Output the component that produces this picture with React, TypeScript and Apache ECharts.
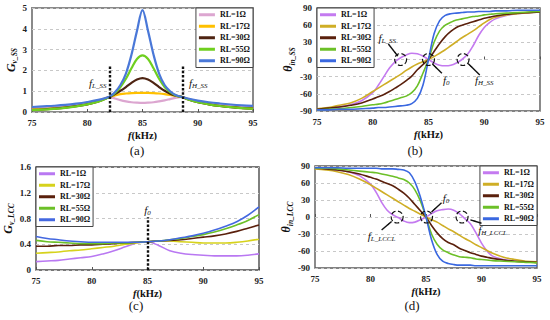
import React, { useEffect, useRef } from "react";
import * as echarts from "echarts";

const FONT = "'Liberation Serif', 'Times New Roman', serif";
const RL_NAMES = ["RL=1Ω", "RL=17Ω", "RL=30Ω", "RL=55Ω", "RL=90Ω"];
const X_TICKS = [75, 80, 85, 90, 95];

// (a) SS voltage gain
const freqA = [75, 76, 77, 78, 79, 80, 81, 82, 82.5, 83, 83.5, 84, 84.5, 85, 85.5, 86, 86.5, 87, 87.5, 88, 88.6, 89, 90, 91, 92, 93, 94, 95];
const gA_rl1 = [0.18, 0.2, 0.24, 0.29, 0.36, 0.44, 0.55, 0.72, 0.65, 0.57, 0.51, 0.47, 0.45, 0.44, 0.45, 0.47, 0.51, 0.56, 0.62, 0.68, 0.72, 0.65, 0.52, 0.43, 0.36, 0.31, 0.27, 0.24];
const gA_rl17 = [0.12, 0.14, 0.18, 0.22, 0.29, 0.38, 0.52, 0.72, 0.8, 0.86, 0.89, 0.91, 0.92, 0.92, 0.92, 0.91, 0.89, 0.86, 0.82, 0.77, 0.72, 0.64, 0.48, 0.38, 0.3, 0.24, 0.2, 0.17];
const gA_rl30 = [0.1, 0.12, 0.16, 0.21, 0.28, 0.37, 0.51, 0.72, 0.86, 1.02, 1.2, 1.4, 1.56, 1.63, 1.56, 1.4, 1.2, 1.02, 0.88, 0.78, 0.72, 0.63, 0.47, 0.37, 0.29, 0.23, 0.19, 0.16];
const gA_rl55 = [0.09, 0.11, 0.15, 0.2, 0.27, 0.37, 0.5, 0.72, 0.9, 1.2, 1.6, 2.1, 2.55, 2.72, 2.55, 2.1, 1.6, 1.2, 0.95, 0.8, 0.72, 0.63, 0.47, 0.37, 0.29, 0.23, 0.19, 0.15];
const gA_rl90 = [0.24, 0.27, 0.3, 0.34, 0.4, 0.48, 0.58, 0.73, 0.95, 1.3, 1.85, 2.75, 3.9, 4.9, 3.9, 2.75, 1.85, 1.3, 1.0, 0.82, 0.72, 0.66, 0.55, 0.47, 0.41, 0.36, 0.32, 0.29];

// (b) and (d) phase
const freqP = [75, 76, 77, 78, 79, 80, 80.5, 81, 81.5, 82, 82.5, 83, 83.5, 84, 84.5, 85, 85.5, 86, 86.5, 87, 87.5, 88, 88.5, 89, 89.5, 90, 90.5, 91, 92, 93, 94, 95];
const pB_rl1 = [-88, -86, -83, -79, -72, -58, -45, -30, -15, -4, 3, 8, 11, 10, 6, 0, -6, -10, -11, -10, -6, 0, 9, 24, 42, 56, 65, 71, 77, 80, 82, 84];
const pB_rl17 = [-86, -84, -80, -76, -68, -56, -50, -44, -38, -32, -26, -19, -13, -8, -4, 0, 5, 11, 17, 24, 31, 38, 44, 50, 57, 64, 70, 74, 78, 80, 82, 83];
const pB_rl30 = [-87, -85, -83, -80, -76, -69, -65, -61, -56, -50, -44, -37, -29, -18, -9, 0, 14, 28, 40, 49, 56, 60, 63, 66, 69, 72, 74, 76, 79, 81, 82, 83];
const pB_rl55 = [-88, -87, -86, -84, -82, -79, -78, -76, -73, -70, -67, -64, -58, -46, -24, 0, 30, 50, 60, 65, 69, 71, 73, 75, 76, 78, 79, 80, 81, 82, 83, 84];
const pB_rl90 = [-88, -88, -87, -87, -86, -85, -84, -84, -83, -82, -81, -80, -77, -68, -45, 0, 45, 68, 77, 80, 81, 82, 83, 83, 84, 84, 84, 85, 85, 86, 86, 86];

const pD_rl1 = [86, 85, 83, 80, 73, 58, 44, 26, 12, 4, -1, -7, -10, -9, -5, 0, 6, 11, 13, 14, 12, 6, -3, -12, -28, -46, -60, -69, -75, -78, -79, -80];
const pD_rl17 = [85, 83, 80, 75, 67, 57, 51, 45, 39, 33, 27, 21, 15, 10, 5, 0, -5, -9, -15, -21, -26, -32, -38, -43, -49, -54, -59, -64, -71, -75, -78, -79];
const pD_rl30 = [86, 85, 83, 80, 76, 70, 67, 63, 59, 55, 49, 42, 33, 22, 11, 0, -15, -28, -38, -45, -49, -55, -59, -63, -66, -69, -71, -73, -76, -78, -79, -80];
const pD_rl55 = [86, 86, 85, 83, 81, 79, 78, 76, 74, 72, 69, 66, 60, 48, 28, 0, -30, -48, -58, -63, -67, -70, -71, -72, -74, -75, -76, -77, -78, -79, -80, -81];
const pD_rl90 = [87, 87, 87, 86, 86, 86, 86, 85, 85, 85, 84, 83, 78, 62, 35, 0, -40, -66, -78, -82, -84, -85, -85, -85, -86, -86, -86, -86, -86, -86, -86, -86];

// (c) LCC voltage gain
const freqC = [75, 76, 77, 78, 79, 80, 81, 82, 83, 84, 85, 86, 87, 88, 89, 90, 91, 92, 93, 94, 95];
const gC_rl1 = [0.13, 0.14, 0.15, 0.17, 0.19, 0.21, 0.25, 0.3, 0.36, 0.42, 0.44, 0.38, 0.3, 0.26, 0.24, 0.23, 0.22, 0.22, 0.22, 0.23, 0.25];
const gC_rl17 = [0.26, 0.27, 0.28, 0.3, 0.31, 0.33, 0.35, 0.37, 0.4, 0.42, 0.44, 0.45, 0.45, 0.44, 0.43, 0.42, 0.42, 0.42, 0.43, 0.45, 0.48];
const gC_rl30 = [0.37, 0.37, 0.38, 0.38, 0.39, 0.39, 0.4, 0.41, 0.42, 0.43, 0.44, 0.45, 0.46, 0.47, 0.49, 0.51, 0.53, 0.56, 0.6, 0.65, 0.7];
const gC_rl55 = [0.46, 0.44, 0.43, 0.42, 0.41, 0.41, 0.41, 0.42, 0.42, 0.43, 0.44, 0.45, 0.47, 0.49, 0.52, 0.55, 0.59, 0.64, 0.7, 0.77, 0.86];
const gC_rl90 = [0.52, 0.49, 0.47, 0.45, 0.44, 0.43, 0.43, 0.43, 0.43, 0.43, 0.44, 0.45, 0.47, 0.5, 0.53, 0.57, 0.62, 0.68, 0.75, 0.85, 0.98];

const COLORS_A = ["#dca6d0", "#ffc000", "#4e2412", "#6fcf1f", "#4a78d8"];
const COLORS_B = ["#c47af0", "#cfae26", "#5a200c", "#6cc028", "#3a68e0"];
const COLORS_C = ["#b978f2", "#d6d21c", "#5a200c", "#6cc028", "#4468e0"];

const subRich = {
  i: { fontFamily: FONT, fontStyle: "italic", fontSize: 11, verticalAlign: "top", color: "#111" },
  s: { fontFamily: FONT, fontStyle: "italic", fontSize: 7, padding: [5, 0, 0, 0], verticalAlign: "top", color: "#111" },
};
const nameRich = {
  i: { fontFamily: FONT, fontStyle: "italic", fontWeight: "bold", fontSize: 12, verticalAlign: "top", color: "#111" },
  s: { fontFamily: FONT, fontStyle: "italic", fontWeight: "bold", fontSize: 7.5, padding: [6, 0, 0, 0], verticalAlign: "top", color: "#111" },
};

function pair(xs: number[], ys: number[]) {
  return xs.map((x, i) => [x, ys[i]]);
}

function circle(x: number, y: number) {
  return {
    coord: [x, y], symbol: "circle", symbolSize: 12,
    itemStyle: { color: "rgba(0,0,0,0)", borderColor: "#111", borderWidth: 1.2, borderType: "dashed" },
    label: { show: false },
  };
}
function textMark(x: number, y: number, main: string, sub: string) {
  return {
    coord: [x, y], symbol: "circle", symbolSize: 1,
    itemStyle: { color: "rgba(0,0,0,0)" },
    label: { show: true, position: "inside", formatter: `{i|${main}}{s|${sub}}`, rich: subRich },
  };
}
function arrow(x1: number, y1: number, x2: number, y2: number) {
  return [{ coord: [x1, y1] }, { coord: [x2, y2] }];
}
function vdash(x: number, y1: number, y2: number) {
  return [{ coord: [x, y1] }, { coord: [x, y2] }];
}

function panelSeries(id: string, idx: number, xs: number[], ys: number[][], colors: string[], width: number, marks: any) {
  return ys.map((vals, k) => {
    const s: any = {
      type: "line",
      name: `${id}|${RL_NAMES[k]}`,
      xAxisIndex: idx,
      yAxisIndex: idx,
      data: pair(xs, vals),
      smooth: 0.35,
      showSymbol: false,
      symbol: "none",
      lineStyle: { color: colors[k], width },
      itemStyle: { color: colors[k] },
      emphasis: { disabled: true },
      silent: true,
    };
    if (k === ys.length - 1 && marks) Object.assign(s, marks);
    return s;
  });
}

const GRIDS = [
  { left: 32, top: 8, width: 221, height: 104, border: "#8a8a8a", bw: 2 },
  { left: 317, top: 8, width: 223, height: 103, border: "#5a5a5a", bw: 1.4 },
  { left: 36, top: 167, width: 223, height: 103, border: "#4a4a4a", bw: 1.4 },
  { left: 315, top: 166, width: 222, height: 102, border: "#5a5a5a", bw: 1.4 },
];

export default function App() {
  const ref = useRef<HTMLDivElement>(null);
  useEffect(() => {
    if (!ref.current) return;
    const chart = echarts.init(ref.current, undefined, { renderer: "svg" });
    const axisLabel = { fontFamily: FONT, fontWeight: "bold", fontSize: 9, color: "#222", margin: 5 };
    const xAxes = GRIDS.map((_, i) => ({
      type: "value", gridIndex: i, min: X_TICKS[0], max: X_TICKS[X_TICKS.length - 1], interval: 5,
      axisLine: { show: false },
      axisTick: { show: true, inside: true, length: 3, lineStyle: { color: "#555" } },
      splitLine: { show: false },
      axisLabel: { ...axisLabel, margin: 6 },
      name: "{i|f}{b|(kHz)}", nameLocation: "middle", nameGap: 18,
      nameTextStyle: {
        rich: {
          i: { fontFamily: FONT, fontStyle: "italic", fontWeight: "bold", fontSize: 10.5, color: "#111" },
          b: { fontFamily: FONT, fontWeight: "bold", fontSize: 10.5, color: "#111" },
        },
      },
    }));
    const yCfg = [
      { min: 0, max: 5, interval: 1, name: "{i|G}{s|v_SS}", gap: 13 },
      { min: -90, max: 90, interval: 30, name: "{i|θ}{s|in_SS}", gap: 18 },
      { min: 0, max: 1.6, interval: 0.4, name: "{i|G}{s|v_LCC}", gap: 19 },
      { min: -90, max: 90, interval: 30, name: "{i|θ}{s|in_LCC}", gap: 18 },
    ];
    const yAxes = yCfg.map((c, i) => ({
      type: "value", gridIndex: i, min: c.min, max: c.max, interval: c.interval,
      axisLine: { show: false }, axisTick: { show: false },
      splitLine: { show: true, lineStyle: { color: "#c8c8c8", type: [3, 3], width: 1 } },
      axisLabel,
      name: c.name, nameLocation: "middle", nameRotate: 90, nameGap: c.gap,
      nameTextStyle: { rich: nameRich },
    }));

    const dashStyle = { color: "#111", width: 2.4, type: [2.5, 1.8] };
    const series = [
      ...panelSeries("a", 0, freqA, [gA_rl1, gA_rl17, gA_rl30, gA_rl55, gA_rl90], COLORS_A, 2.2, {
        markLine: {
          silent: true, symbol: ["none", "none"], label: { show: false }, lineStyle: dashStyle,
          data: [vdash(82.06, 0, 2.2), vdash(88.6, 0, 2.2)],
        },
        markPoint: { silent: true, data: [textMark(80.95, 1.39, "f", "L_SS"), textMark(90.05, 1.39, "f", "H_SS")] },
      }),
      ...panelSeries("b", 1, freqP, [pB_rl1, pB_rl17, pB_rl30, pB_rl55, pB_rl90], COLORS_B, 1.6, {
        markLine: {
          silent: true, symbol: ["none", "arrow"], symbolSize: [1, 6], label: { show: false },
          lineStyle: { color: "#111", width: 1.4, type: "solid" },
          data: [arrow(81.4, 27, 82.25, 6), arrow(86.2, -24, 85.35, -8), arrow(89.6, -27, 88.55, -7)],
        },
        markPoint: {
          silent: true,
          data: [circle(82.5, 0), circle(85, 0), circle(88.1, 0),
            textMark(81.3, 37, "f", "L_SS"), textMark(86.6, -36, "f", "0"), textMark(90.0, -37, "f", "H_SS")],
        },
      }),
      ...panelSeries("c", 2, freqC, [gC_rl1, gC_rl17, gC_rl30, gC_rl55, gC_rl90], COLORS_C, 1.6, {
        markLine: {
          silent: true, symbol: ["none", "none"], label: { show: false }, lineStyle: dashStyle,
          data: [vdash(85, 0, 0.82)],
        },
        markPoint: { silent: true, data: [textMark(85, 0.93, "f", "0")] },
      }),
      ...panelSeries("d", 3, freqP, [pD_rl1, pD_rl17, pD_rl30, pD_rl55, pD_rl90], COLORS_B, 1.6, {
        markLine: {
          silent: true, symbol: ["none", "arrow"], symbolSize: [1, 6], label: { show: false },
          lineStyle: { color: "#111", width: 1.4, type: "solid" },
          data: [arrow(86.4, 25, 85.5, 9), arrow(81.0, -23, 81.9, -8), arrow(90.0, -11, 89.0, -5)],
        },
        markPoint: {
          silent: true,
          data: [circle(82.4, 0), circle(85.05, 0), circle(88.25, 0),
            textMark(86.8, 32, "f", "0"), textMark(81.0, -34, "f", "L_LCCL"), textMark(91.0, -24, "f", "H_LCCL")],
        },
      }),
    ];

    const legendBase = {
      orient: "vertical", icon: "rect", itemWidth: 16, itemHeight: 3, itemGap: 2,
      padding: [2, 3, 2, 3], backgroundColor: "#fff", borderColor: "#444", borderWidth: 1,
      textStyle: { fontFamily: FONT, fontWeight: "bold", fontSize: 8, color: "#111", lineHeight: 9.5 },
      formatter: (n: string) => n.split("|")[1],
      selectedMode: false,
    };
    const legendFor = (id: string, pos: any) => ({
      ...legendBase, ...pos, data: RL_NAMES.map((n) => `${id}|${n}`),
    });

    chart.setOption({
      animation: false,
      backgroundColor: "#fff",
      grid: GRIDS.map((g) => ({ left: g.left, top: g.top, width: g.width, height: g.height, show: true, borderColor: g.border, borderWidth: g.bw, backgroundColor: "#fff" })),
      xAxis: xAxes,
      yAxis: yAxes,
      legend: [
        legendFor("a", { right: 297, top: 8 }),
        legendFor("b", { left: 317, top: 8 }),
        legendFor("c", { left: 36, top: 167 }),
        legendFor("d", { right: 13, top: 166 }),
      ],
      series,
      graphic: [
        { type: "text", x: 137, y: 150, style: { text: "(a)", font: `13px ${FONT}`, fill: "#111", align: "center", verticalAlign: "middle" } },
        { type: "text", x: 415, y: 150, style: { text: "(b)", font: `13px ${FONT}`, fill: "#111", align: "center", verticalAlign: "middle" } },
        { type: "text", x: 136, y: 305, style: { text: "(c)", font: `13px ${FONT}`, fill: "#111", align: "center", verticalAlign: "middle" } },
        { type: "text", x: 412, y: 305, style: { text: "(d)", font: `13px ${FONT}`, fill: "#111", align: "center", verticalAlign: "middle" } },
      ],
    });
    return () => chart.dispose();
  }, []);
  return <div ref={ref} style={{ position: "absolute", left: 0, top: 0, width: 550, height: 320 }} />;
}
